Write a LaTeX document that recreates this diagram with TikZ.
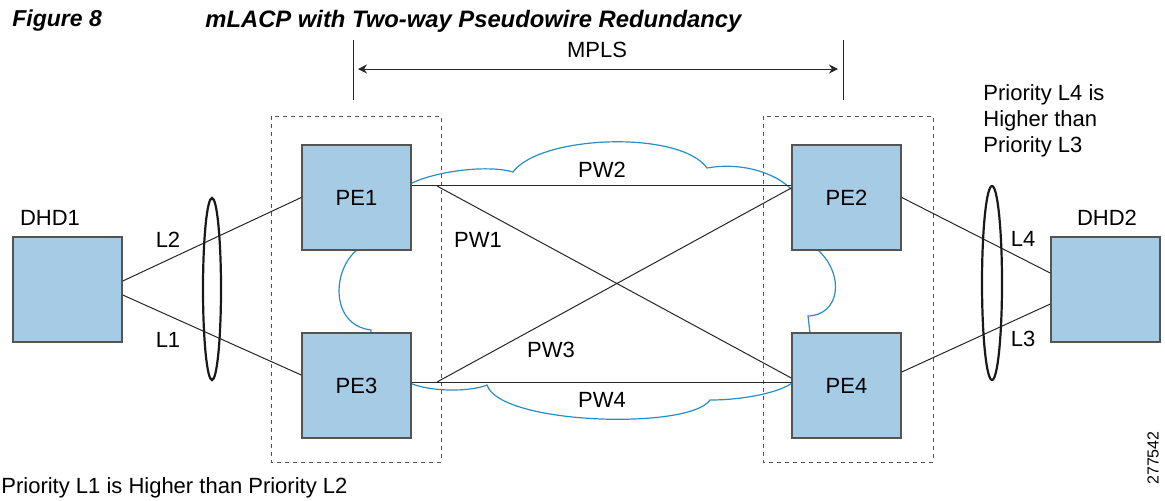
\documentclass[tikz,border=0pt]{standalone}
\usepackage{fontspec}
\setmainfont{Liberation Sans}
\usetikzlibrary{arrows.meta}
\newlength{\du}
\setlength{\du}{0.5pt}
\definecolor{boxfill}{rgb}{0.650000, 0.796000, 0.894000}
\definecolor{boxline}{rgb}{0.330000, 0.330000, 0.330000}
\definecolor{cloudline}{rgb}{0.160000, 0.553000, 0.773000}
\tikzset{
  pebox/.style={draw=boxline, fill=boxfill, line width=0.75pt, minimum width=109\du, minimum height=105\du, inner sep=0pt, font=\fontsize{11}{13}\selectfont},
  lbl/.style={font=\fontsize{11}{13}\selectfont, inner sep=0pt},
  link/.style={draw=black!85, line width=0.5pt},
  cloud/.style={draw=cloudline, line width=0.6pt},
  bundle/.style={draw=black!90, line width=1.1pt},
  site/.style={draw=boxline, line width=0.5pt, dash pattern=on 2pt off 2pt}
}
\begin{document}
\begin{tikzpicture}
\pgftransformyscale{-1.000000}
\useasboundingbox (0\du,0\du) rectangle (1165\du,500\du);
% title
\node[anchor=west, inner sep=0pt] (fig) at (12\du,21\du){\fontsize{11.5}{13}\selectfont\bfseries\itshape Figure 8};
\node[anchor=west, inner sep=0pt] (title) at (205\du,21\du){\fontsize{11.9}{13}\selectfont\bfseries\itshape mLACP with Two-way Pseudowire Redundancy};
% MPLS span
\coordinate (mplsl) at (353\du,40\du);
\coordinate (mplsr) at (843\du,40\du);
\draw[link] (mplsl) -- ++(0\du,60\du);
\draw[link] (mplsr) -- ++(0\du,60\du);
\draw[link, {Stealth[length=4.5pt,width=4.5pt]}-{Stealth[length=4.5pt,width=4.5pt]}] (358\du,69\du) -- (838\du,69\du);
\node[lbl] (mpls) at (597\du,50\du){MPLS};
% dashed sites
\draw[site] (271\du,116\du) rectangle (441\du,462\du);
\draw[site] (763\du,116\du) rectangle (933\du,462\du);
% clouds
\draw[cloud] (412\du,183\du) .. controls (440\du,170\du) and (490\du,165\du) .. (513\du,172\du)
  .. controls (540\du,135\du) and (680\du,130\du) .. (707\du,168\du)
  .. controls (740\du,162\du) and (775\du,172\du) .. (792\du,190\du);
\draw[cloud] (410\du,383\du) .. controls (430\du,392\du) and (470\du,392\du) .. (487\du,385\du)
  .. controls (500\du,425\du) and (690\du,430\du) .. (710\du,400\du)
  .. controls (745\du,400\du) and (780\du,392\du) .. (792\du,383\du);
\draw[cloud] (357\du,250\du) .. controls (332\du,270\du) and (330\du,325\du) .. (371\du,330\du) -- (371\du,333\du);
\draw[cloud] (818\du,250\du) .. controls (845\du,275\du) and (840\du,315\du) .. (808\du,316\du) -- (810\du,333\du);
% boxes
\node[pebox] (pe1) at (356.5\du,197.5\du){PE1};
\node[pebox] (pe3) at (356.5\du,385.5\du){PE3};
\node[pebox] (pe2) at (846.5\du,197.5\du){PE2};
\node[pebox] (pe4) at (846.5\du,385.5\du){PE4};
\node[pebox] (dhd1) at (67.5\du,289.5\du){};
\node[pebox] (dhd2) at (1105.5\du,289.5\du){};
\node[lbl] (dhd1lbl) at (50\du,218\du){DHD1};
\node[lbl] (dhd2lbl) at (1107\du,218\du){DHD2};
% attachment circuits
\draw[link] ([yshift=-8.5\du]dhd1.east) -- (pe1.west);
\draw[link] ([yshift=5.5\du]dhd1.east) -- ([yshift=-10.5\du]pe3.west);
\draw[link] (pe2.east) -- ([yshift=-16.5\du]dhd2.west);
\draw[link] ([yshift=-13.5\du]pe4.east) -- ([yshift=14.5\du]dhd2.west);
\draw[bundle] (212\du,289\du) ellipse [x radius=9\du, y radius=91\du];
\draw[bundle] (992\du,283\du) ellipse [x radius=10\du, y radius=97\du];
\node[lbl] (l2) at (168\du,240\du){L2};
\node[lbl] (l1) at (168\du,340\du){L1};
\node[lbl] (l4) at (1023\du,239\du){L4};
\node[lbl] (l3) at (1023\du,339\du){L3};
% pseudowires
\coordinate (pw1start) at (437\du,186\du);
\coordinate (pw3start) at (437\du,382\du);
\draw[link] ([yshift=-12\du]pe1.east) -- ([yshift=-12\du]pe2.west);
\draw[link] ([yshift=-3.5\du]pe3.east) -- ([yshift=-3.5\du]pe4.west);
\draw[link] (pw1start) -- ([yshift=-7.5\du]pe4.west);
\draw[link] (pw3start) -- ([yshift=-9.5\du]pe2.west);
\node[lbl] (pw2) at (602\du,170\du){PW2};
\node[lbl] (pw1) at (478\du,240\du){PW1};
\node[lbl] (pw3) at (551\du,350\du){PW3};
\node[lbl] (pw4) at (602\du,400\du){PW4};
% notes
\node[lbl, anchor=north west, align=left] (note2) at (983\du,84\du){Priority L4 is\\Higher than\\Priority L3};
\node[lbl, anchor=west] (note1) at (1\du,488\du){Priority L1 is Higher than Priority L2};
\node[lbl, rotate=90, font=\fontsize{8}{10}\selectfont] (num) at (1153\du,458\du){277542};
\end{tikzpicture}
\end{document}
